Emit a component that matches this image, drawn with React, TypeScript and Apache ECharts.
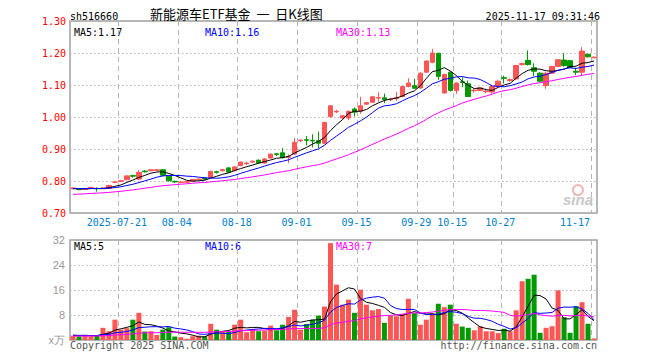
import React, { useEffect, useRef } from 'react';
import * as echarts from 'echarts';

// ---- data ----
const dates = [
  '2025-07-09','2025-07-10','2025-07-11','2025-07-14','2025-07-15','2025-07-16','2025-07-17','2025-07-18',
  '2025-07-21','2025-07-22','2025-07-23','2025-07-24','2025-07-25','2025-07-28','2025-07-29','2025-07-30','2025-07-31',
  '2025-08-01','2025-08-04','2025-08-05','2025-08-06','2025-08-07','2025-08-08','2025-08-11','2025-08-12','2025-08-13',
  '2025-08-14','2025-08-15','2025-08-18','2025-08-19','2025-08-20','2025-08-21','2025-08-22','2025-08-25','2025-08-26',
  '2025-08-27','2025-08-28','2025-08-29','2025-09-01','2025-09-02','2025-09-03','2025-09-04','2025-09-05','2025-09-08',
  '2025-09-09','2025-09-10','2025-09-11','2025-09-12','2025-09-15','2025-09-16','2025-09-17','2025-09-18','2025-09-19',
  '2025-09-22','2025-09-23','2025-09-24','2025-09-25','2025-09-26','2025-09-29','2025-09-30','2025-10-09','2025-10-10',
  '2025-10-13','2025-10-14','2025-10-15','2025-10-16','2025-10-17','2025-10-20','2025-10-21','2025-10-22','2025-10-23',
  '2025-10-24','2025-10-27','2025-10-28','2025-10-29','2025-10-30','2025-10-31','2025-11-03','2025-11-04','2025-11-05',
  '2025-11-06','2025-11-07','2025-11-10','2025-11-11','2025-11-12','2025-11-13','2025-11-14','2025-11-17'
];

const opens = [
  0.776,0.774,0.774,0.778,0.777,0.776,0.777,0.796,0.799,0.804,
  0.817,0.806,0.831,0.832,0.833,0.835,0.815,0.799,0.795,0.796,
  0.800,0.804,0.810,0.811,0.829,0.832,0.841,0.832,0.848,0.854,
  0.859,0.865,0.856,0.872,0.885,0.888,0.874,0.884,0.926,0.929,
  0.927,0.926,0.918,1.001,1.016,0.997,0.997,1.025,1.018,1.040,
  1.046,1.059,1.060,1.054,1.058,1.064,1.095,1.098,1.091,1.140,
  1.171,1.199,1.075,1.140,1.083,1.110,1.104,1.082,1.083,1.079,
  1.078,1.095,1.123,1.114,1.119,1.164,1.177,1.154,1.137,1.098,
  1.137,1.158,1.178,1.176,1.143,1.140,1.196,1.185
];
const closes = [
  0.778,0.773,0.775,0.780,0.776,0.778,0.786,0.797,0.801,0.816,
  0.815,0.827,0.829,0.835,0.835,0.818,0.801,0.797,0.797,0.798,
  0.805,0.806,0.806,0.830,0.827,0.836,0.828,0.844,0.859,0.856,
  0.862,0.857,0.869,0.884,0.883,0.873,0.876,0.921,0.928,0.927,
  0.925,0.918,0.983,1.035,1.018,1.004,1.018,1.015,1.035,1.045,
  1.063,1.061,1.055,1.056,1.061,1.095,1.106,1.090,1.137,1.175,
  1.200,1.127,1.133,1.083,1.106,1.108,1.064,1.084,1.091,1.081,
  1.095,1.112,1.121,1.117,1.161,1.167,1.164,1.143,1.112,1.137,
  1.158,1.179,1.161,1.155,1.140,1.206,1.188,1.187
];
const lows = [
  0.774,0.771,0.772,0.776,0.767,0.775,0.776,0.793,0.797,0.803,
  0.810,0.803,0.826,0.830,0.831,0.815,0.798,0.794,0.793,0.794,
  0.799,0.802,0.804,0.809,0.823,0.830,0.826,0.830,0.846,0.850,
  0.856,0.854,0.854,0.870,0.878,0.870,0.856,0.882,0.922,0.911,
  0.905,0.903,0.915,0.998,1.012,0.993,0.990,1.002,1.010,1.038,
  1.044,1.047,1.043,1.050,1.050,1.062,1.093,1.088,1.088,1.138,
  1.168,1.116,1.073,1.080,1.072,1.093,1.062,1.076,1.081,1.074,
  1.073,1.093,1.105,1.110,1.117,1.160,1.161,1.128,1.110,1.088,
  1.135,1.156,1.157,1.153,1.131,1.128,1.186,1.184
];
const highs = [
  0.780,0.776,0.778,0.782,0.780,0.780,0.788,0.800,0.803,0.818,
  0.820,0.834,0.834,0.837,0.837,0.837,0.816,0.801,0.800,0.800,
  0.806,0.808,0.812,0.832,0.832,0.838,0.843,0.846,0.861,0.860,
  0.864,0.867,0.871,0.886,0.888,0.903,0.883,0.934,0.930,0.941,
  0.946,0.954,0.985,1.037,1.022,1.006,1.020,1.030,1.063,1.047,
  1.066,1.077,1.073,1.060,1.078,1.097,1.121,1.119,1.139,1.177,
  1.213,1.201,1.135,1.142,1.108,1.124,1.114,1.088,1.093,1.088,
  1.097,1.114,1.129,1.121,1.163,1.170,1.208,1.168,1.140,1.139,
  1.160,1.181,1.199,1.178,1.154,1.218,1.198,1.189
];
const volumes = [
  1.4,1.2,1.6,1.2,1.4,3.9,2.8,6.5,3.3,3.8,
  6.5,8.7,2.7,2.8,1.6,3.3,4.1,1.1,0.9,0.4,
  1.2,1.4,1.2,5.2,3.3,2.8,2.7,4.9,6.5,2.5,
  3.5,2.8,3.0,4.6,3.1,4.9,7.4,9.7,3.3,5.1,
  6.5,7.8,10.7,31.0,17.7,11.3,12.9,8.7,16.1,11.3,
  9.5,9.9,5.5,7.8,7.6,8.4,13.2,8.6,4.9,6.5,
  8.6,11.6,10.5,11.3,5.2,4.3,3.9,3.1,4.4,2.8,
  2.8,2.2,3.6,2.8,9.5,18.8,19.6,20.9,2.3,3.9,
  4.4,15.9,7.3,2.3,10.8,12.1,5.2,0.5
];
// history before the visible window (only used for the moving averages)
const preCloses = [
  0.742,0.745,0.744,0.748,0.750,0.747,0.745,0.749,0.752,0.750,
  0.748,0.751,0.753,0.750,0.748,0.749,0.752,0.755,0.753,0.750,
  0.770,0.774,0.776,0.778,0.775,0.777,0.779,0.776,0.775
];
const preVolumes = [
  1.0,1.3,0.9,1.1,1.4,1.2,0.8,1.0,1.3,1.1,
  0.9,1.2,1.0,1.4,1.1,0.9,1.2,1.3,1.0,1.1,
  1.6,1.4,1.8,1.5,1.3,1.7,1.4,1.6,1.5
];
const tickIndices = [8, 18, 28, 38, 48, 58, 64, 72, 87];
const priceLegend = ['MA5:1.17', 'MA10:1.16', 'MA30:1.13'];
const volumeLegend = ['MA5:5', 'MA10:6', 'MA30:7'];
const maPeriods = [5, 10, 30];

function movingAverage(hist: number[], vals: number[], n: number) {
  const all = hist.concat(vals);
  const off = hist.length;
  return vals.map((_, i) => {
    const end = off + i;
    let s = 0, c = 0;
    for (let k = end - n + 1; k <= end; k++) {
      if (k >= 0) { s += all[k]; c++; }
    }
    return +(s / c).toFixed(4);
  });
}

const UP = '#ff5555';
const DOWN = '#009900';
const MA_COLORS = ['#000000', '#0000ff', '#ff00ff'];
const MONO = '"DejaVu Sans Mono", monospace';

export default function App() {
  const ref = useRef<HTMLDivElement>(null);
  useEffect(() => {
    if (!ref.current) return;
    const chart = echarts.init(ref.current, null, { renderer: 'svg' });
    const tickSet = new Set(tickIndices);
    const lastIdx = dates.length - 1;
    const candleData = dates.map((_, i) => [opens[i], closes[i], lows[i], highs[i]]);
    const volData = volumes.map((v, i) => ({
      value: v,
      itemStyle: { color: closes[i] >= opens[i] ? UP : DOWN }
    }));
    const priceMA = maPeriods.map((p) => movingAverage(preCloses, closes, p));
    const volMA = maPeriods.map((p) => movingAverage(preVolumes, volumes, p));

    const dashed = { show: true, interval: (i: number) => tickSet.has(i), lineStyle: { color: '#b4b4b4', type: [5, 4] as any, width: 1 } };
    const dotted = { show: true, lineStyle: { color: '#b4b4b4', type: [1.5, 2.5] as any, width: 1 } };

    const maSeries = (arr: number[][], xi: number, yi: number) =>
      arr.map((d, k) => ({
        type: 'line', xAxisIndex: xi, yAxisIndex: yi, data: d, symbol: 'none', smooth: false,
        lineStyle: { color: MA_COLORS[k], width: 1 }, itemStyle: { color: MA_COLORS[k] }, z: 5, silent: true
      }));

    const legendTexts = (labels: string[], y: number) => labels.map((t, k) => ({
      type: 'text', left: [74, 205, 336][k], top: y,
      style: { text: t, fill: MA_COLORS[k], font: `10px ${MONO}` }
    }));

    const option: any = {
      animation: false,
      backgroundColor: '#ffffff',
      grid: [
        { left: 70, top: 21, width: 527, height: 192, show: true, borderColor: '#a0a0a0', borderWidth: 1.5, backgroundColor: 'transparent' },
        { left: 70, top: 240, width: 527, height: 100, show: true, borderColor: '#a0a0a0', borderWidth: 1.5, backgroundColor: 'transparent' }
      ],
      xAxis: [
        {
          type: 'category', gridIndex: 0, data: dates, boundaryGap: true,
          axisLine: { show: false }, axisTick: { show: false },
          axisLabel: {
            interval: (i: number) => tickSet.has(i),
            margin: 4,
            formatter: (v: string, i: number) => {
              if (i === lastIdx) return '{b|' + v.slice(5) + '}';
              if (i === tickIndices[0]) return '{a|' + v + '}';
              return '{a|' + v.slice(5) + '}';
            },
            rich: {
              a: { padding: [0, 8, 0, 0], color: '#0080cc', fontSize: 10, fontFamily: MONO },
              b: { padding: [0, 38, 0, 0], color: '#0080cc', fontSize: 10, fontFamily: MONO }
            }
          },
          splitLine: dashed
        },
        {
          type: 'category', gridIndex: 1, data: dates, boundaryGap: true,
          axisLine: { show: false }, axisTick: { show: false }, axisLabel: { show: false },
          splitLine: dashed
        }
      ],
      yAxis: [
        {
          type: 'value', gridIndex: 0, min: 0.7, max: 1.3, interval: 0.1, scale: true,
          axisLine: { show: false }, axisTick: { show: false },
          axisLabel: { color: '#ff0000', fontSize: 10, fontFamily: MONO, margin: 4, formatter: (v: number) => v.toFixed(2) },
          splitLine: dotted
        },
        {
          type: 'value', gridIndex: 1, min: 0, max: 32, interval: 8,
          axisLine: { show: false }, axisTick: { show: false },
          axisLabel: { color: '#999999', fontSize: 11, fontFamily: '"Liberation Sans", Arial, sans-serif', margin: 5, formatter: (v: number) => (v === 0 ? 'x万' : String(v)) },
          splitLine: dotted
        }
      ],
      series: [
        {
          type: 'candlestick', xAxisIndex: 0, yAxisIndex: 0, data: candleData, barWidth: 5,
          itemStyle: { color: UP, color0: DOWN, borderColor: UP, borderColor0: DOWN, borderWidth: 1 }
        },
        ...maSeries(priceMA, 0, 0),
        { type: 'bar', xAxisIndex: 1, yAxisIndex: 1, data: volData, barWidth: 5 },
        ...maSeries(volMA, 1, 1)
      ],
      graphic: [
        { type: 'text', left: 70, top: 11, style: { text: 'sh516660', fill: '#000', font: `10px ${MONO}` } },
        { type: 'text', left: 150, top: 7, style: { text: '新能源车ETF基金  一  日K线图', fill: '#000', font: '13px "Noto Sans CJK SC", sans-serif' } },
        { type: 'text', right: 60, top: 11, style: { text: '2025-11-17 09:31:46', fill: '#000', font: `10px ${MONO}` } },
        ...legendTexts(priceLegend, 27),
        ...legendTexts(volumeLegend, 241),
        { type: 'text', left: 70, top: 340, style: { text: 'Copyright 2025 SINA.COM', fill: '#555', font: `10px ${MONO}` } },
        { type: 'text', right: 63, top: 340, style: { text: 'http://finance.sina.com.cn', fill: '#555', font: `10px ${MONO}` } },
        { type: 'circle', shape: { cx: 578, cy: 190, r: 5 }, style: { fill: 'none', stroke: '#f2b8b8', lineWidth: 2 }, z: 1 },
        { type: 'text', left: 563, top: 192, style: { text: 'sina', fill: '#c8c8c8', font: 'italic bold 15px "Liberation Sans", sans-serif' }, z: 1 }
      ]
    };
    chart.setOption(option);
    return () => chart.dispose();
  }, []);
  return <div ref={ref} style={{ position: 'absolute', left: 0, top: 0, width: 660, height: 360 }} />;
}
